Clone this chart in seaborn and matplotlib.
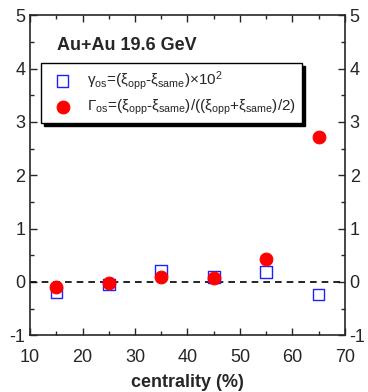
import pandas as pd
import matplotlib.pyplot as plt
import numpy as np
import seaborn as sns
from matplotlib.ticker import MultipleLocator

sns.set_style("ticks")
plt.rcParams['font.family'] = ['Liberation Sans', 'DejaVu Sans']
plt.rcParams['mathtext.fontset'] = 'custom'
plt.rcParams['mathtext.rm'] = 'Liberation Sans'
plt.rcParams['mathtext.it'] = 'Liberation Sans:italic'
plt.rcParams['mathtext.bf'] = 'Liberation Sans:bold'
plt.rcParams['axes.unicode_minus'] = False

centrality = [15, 25, 35, 45, 55, 65]
gamma_os = [-0.20, -0.05, 0.21, 0.09, 0.19, -0.24]
Gamma_os = [-0.09, -0.02, 0.10, 0.08, 0.42, 2.71]

lab_gamma = r'γ$_{\rm os}$=(ξ$_{\rm opp}$-ξ$_{\rm same}$)×10$^{2}$'
lab_Gamma = r'Γ$_{\rm os}$=(ξ$_{\rm opp}$-ξ$_{\rm same}$)/((ξ$_{\rm opp}$+ξ$_{\rm same}$)/2)'

df = pd.DataFrame({'centrality': centrality * 2,
                   'value': gamma_os + Gamma_os,
                   'series': [lab_gamma] * len(centrality) + [lab_Gamma] * len(centrality)})

fig = plt.figure(figsize=(3.68, 3.92), dpi=100)
ax = fig.add_axes([0.082, 0.145, 0.855, 0.816])

ax.axhline(0, color='black', ls=(0, (4, 3)), lw=1.2, zorder=1)

sns.scatterplot(data=df[df['series'] == lab_gamma], x='centrality', y='value', ax=ax,
                marker='s', s=70, facecolor='none', edgecolor='#2020ff', linewidth=1.0,
                label=lab_gamma, zorder=3)
sns.scatterplot(data=df[df['series'] == lab_Gamma], x='centrality', y='value', ax=ax,
                marker='o', s=85, color='#ff0000', edgecolor='#ff0000',
                label=lab_Gamma, zorder=4)

ax.set_xlim(10, 70)
ax.set_ylim(-1, 5)
ax.xaxis.set_major_locator(MultipleLocator(10))
ax.xaxis.set_minor_locator(MultipleLocator(5))
ax.yaxis.set_major_locator(MultipleLocator(1))
ax.yaxis.set_minor_locator(MultipleLocator(0.5))
ax.tick_params(which='both', direction='in', top=True, right=True, labelright=True,
               labelsize=13, width=1)
ax.tick_params(axis='x', which='major', pad=10)
ax.tick_params(which='major', length=5)
ax.tick_params(which='minor', length=3)
for sp in ax.spines.values():
    sp.set_linewidth(1.2)

ax.set_xlabel('centrality (%)', fontsize=13, fontweight='bold', labelpad=6)
ax.set_ylabel('')

ax.text(0.085, 0.905, 'Au+Au 19.6 GeV', transform=ax.transAxes, fontsize=13,
        fontweight='bold', va='center')

leg = ax.legend(loc='upper left', bbox_to_anchor=(0.035, 0.85), fontsize=11,
                frameon=True, fancybox=False, shadow={'color': 'black', 'alpha': 1},
                edgecolor='black', framealpha=1, borderpad=0.4, handletextpad=0.6,
                labelspacing=0.35, handlelength=2.0, borderaxespad=0)
leg.get_frame().set_linewidth(1.0)

fig.savefig('out.png', dpi=100)
